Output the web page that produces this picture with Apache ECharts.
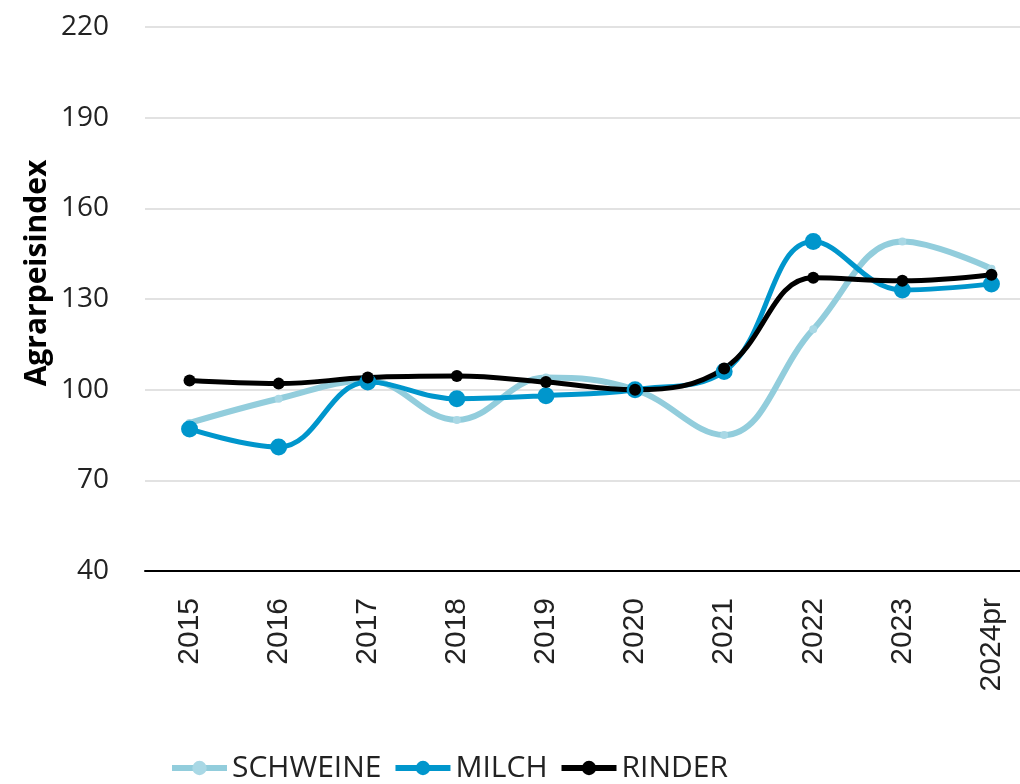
<!DOCTYPE html>
<html>
<head>
<meta charset="utf-8">
<script src="https://cdn.jsdelivr.net/npm/echarts@6/dist/echarts.min.js"></script>
<style>
  html, body { margin: 0; padding: 0; background: #fff; }
  #chart-container { width: 1020px; height: 784px; }
</style>
</head>
<body>
<div id="chart-container"></div>
<script>
// categories and values
let years = ['2015', '2016', '2017', '2018', '2019', '2020', '2021', '2022', '2023', '2024pr'];
let schweine = [89, 97, 103, 90, 104, 100, 85, 120, 149, 140];
let milch = [87, 81, 102.5, 97, 98, 100, 106, 149, 133, 135];
let rinder = [103, 102, 104, 104.5, 102.5, 100, 107, 137, 136, 138];
let yTicks = [40, 70, 100, 130, 160, 190, 220];

let myChart = echarts.init(document.getElementById('chart-container'));

function lineSeries(name, data, color, width, symSize, symColor) {
    return {
        name: name,
        type: 'line',
        data: data,
        smooth: 0.4,
        symbol: 'circle',
        symbolSize: symSize,
        lineStyle: { color: color, width: width },
        itemStyle: { color: symColor || color },
        emphasis: { disabled: true }
    };
}

var option = {
    animation: false,
    grid: { left: 145, top: 27, width: 891, height: 544, containLabel: false, outerBoundsMode: 'none' },
    legend: {
        left: 164,
        bottom: -4,
        itemWidth: 55,
        itemHeight: 18,
        itemGap: 11,
        lineStyle: { width: 6 },
        textStyle: { fontFamily: 'Open Sans', fontSize: 30, color: '#222' },
        data: ['SCHWEINE', 'MILCH', 'RINDER']
    },
    xAxis: {
        type: 'category',
        data: years,
        axisLine: { lineStyle: { color: '#000', width: 2 } },
        axisTick: { show: false },
        axisLabel: {
            rotate: 90,
            margin: 27,
            fontFamily: 'Liberation Sans',
            fontSize: 30,
            color: '#222'
        }
    },
    yAxis: {
        type: 'value',
        min: yTicks[0],
        max: yTicks[yTicks.length - 1],
        interval: 30,
        axisLine: { show: false },
        axisTick: { show: false },
        axisLabel: {
            margin: 36,
            fontFamily: 'Open Sans',
            fontSize: 28,
            color: '#222'
        },
        splitLine: { lineStyle: { color: '#d9d9d9', width: 1.5 } }
    },
    graphic: [{
        type: 'text',
        x: 37,
        y: 273,
        rotation: Math.PI / 2,
        style: {
            text: 'Agrarpeisindex',
            fontFamily: 'Open Sans',
            fontWeight: 'bold',
            fontSize: 30,
            fill: '#000',
            align: 'center',
            verticalAlign: 'middle'
        }
    }],
    series: [
        lineSeries('SCHWEINE', schweine, '#92cddc', 6, 8, '#a9d8e5'),
        lineSeries('MILCH', milch, '#0096cc', 5, 17),
        lineSeries('RINDER', rinder, '#000000', 5, 12)
    ]
};

myChart.setOption(option);
</script>
</body>
</html>
